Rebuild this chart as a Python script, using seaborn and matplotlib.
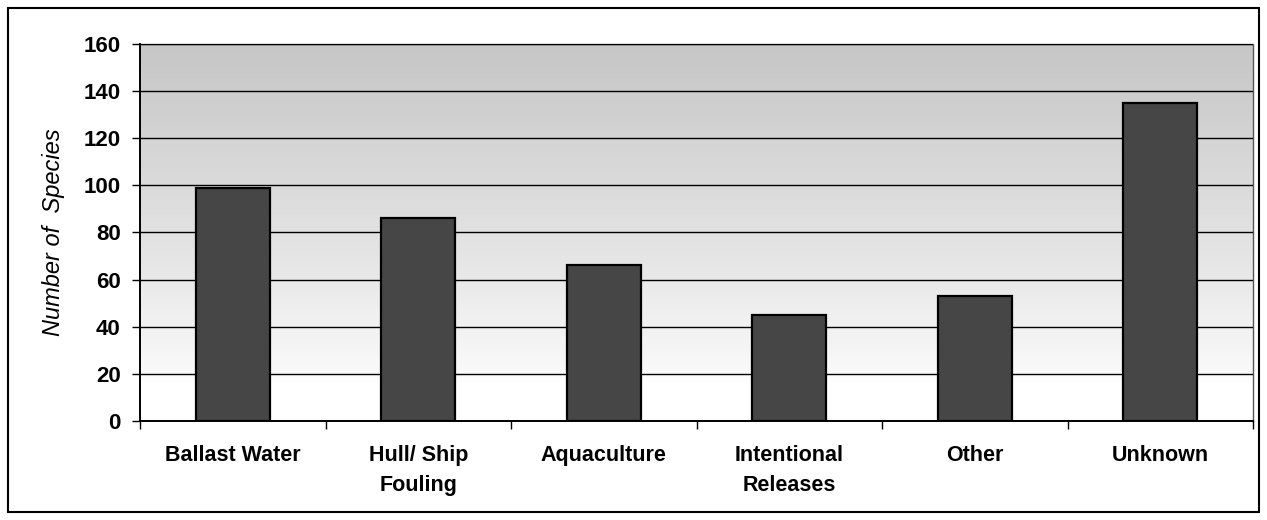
import matplotlib
matplotlib.use("Agg")
import matplotlib.pyplot as plt
from matplotlib.patches import Rectangle
import numpy as np
import pandas as pd
import seaborn as sns

# chart values
categories = ["Ballast Water", "Hull/ Ship\nFouling", "Aquaculture",
              "Intentional\nReleases", "Other", "Unknown"]
species = [99, 86, 66, 45, 53, 135]
y_ticks = [0, 20, 40, 60, 80, 100, 120, 140, 160]

df = pd.DataFrame({"Vector": categories, "Species": species})

sns.set_theme(style="white")
plt.rcParams["font.family"] = ["Liberation Sans", "DejaVu Sans"]
plt.rcParams["text.color"] = "black"
plt.rcParams["axes.labelcolor"] = "black"
plt.rcParams["xtick.color"] = "black"
plt.rcParams["ytick.color"] = "black"

fig = plt.figure(figsize=(12.67, 5.2), dpi=100)
ax = fig.add_axes([0.1105, 0.1904, 0.8785, 0.725])

# gradient fill of the plot area (dark at top, white at bottom)
grad = np.linspace(0, 1, 256).reshape(-1, 1)
grad = np.clip((grad - 0.1) / 0.9, 0, 1) ** 0.6
ax.imshow(grad, aspect="auto", cmap="Greys", vmin=0, vmax=3.0,
          extent=[-0.5, 5.5, 0, 160], origin="lower", zorder=0)

sns.barplot(data=df, x="Vector", y="Species", color="#464646", width=0.4,
            edgecolor="black", linewidth=1.6, saturation=1, ax=ax, zorder=3)

ax.set_xlim(-0.5, 5.5)
ax.set_ylim(0, 160)
ax.set_yticks(y_ticks)
ax.yaxis.grid(True, color="black", linewidth=1.0)
ax.set_axisbelow(False)
for gl in ax.get_ygridlines():
    gl.set_zorder(1)

# Excel-style ticks between categories
ax.set_xticks(np.arange(-0.5, 6.0, 1.0), minor=False)
ax.set_xticklabels([])
ax.set_xticks(np.arange(6), minor=True)
ax.set_xticklabels(categories, minor=True, fontsize=15.5, fontweight="bold",
                   linespacing=1.6)
ax.tick_params(axis="x", which="major", direction="out", length=6, width=1,
               color="black", bottom=True)
ax.tick_params(axis="x", which="minor", length=0, pad=17, colors="black")
ax.tick_params(axis="y", direction="out", length=6, width=1, color="black",
               left=True, labelsize=16, pad=8, labelcolor="black")
for lab in ax.get_yticklabels():
    lab.set_fontweight("bold")

ax.set_xlabel("")
ax.set_ylabel("Number of  Species", fontsize=17, fontstyle="italic",
              labelpad=13, color="black")

for side in ["left", "bottom"]:
    ax.spines[side].set_color("black")
    ax.spines[side].set_linewidth(1.4)
for side in ["top", "right"]:
    ax.spines[side].set_color("#555555")
    ax.spines[side].set_linewidth(1.0)
    ax.spines[side].set_linestyle((0, (1, 1)))

# outer frame around the whole chart
fig.patches.append(Rectangle((8 / 1267, 8 / 520), 1 - 16 / 1267, 1 - 16 / 520,
                             transform=fig.transFigure, fill=False,
                             edgecolor="black", linewidth=1.5))

fig.savefig("out.png", dpi=100)
